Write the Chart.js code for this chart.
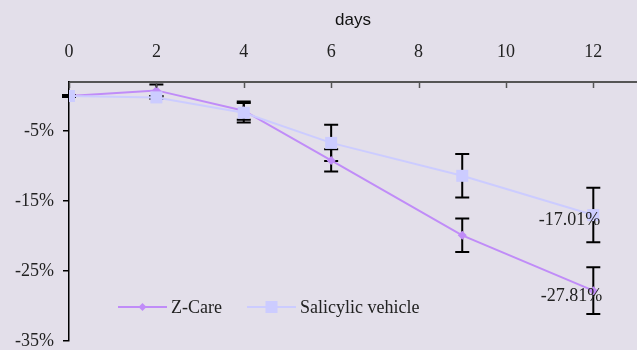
<!DOCTYPE html>
<html>
<head>
<meta charset="utf-8">
<script src="https://cdn.jsdelivr.net/npm/chart.js@4"></script>
<style>
html,body{margin:0;padding:0;background:#E3DFEA;}
#wrap{width:637px;height:350px;position:relative;}
</style>
</head>
<body>
<div id="wrap"><canvas id="c" width="637" height="350"></canvas></div>
<script>
// ---- data ----
const days = [0, 2, 4, 6, 9, 12];
const zcare = [0, 0.8, -2.1, -9.2, -19.9, -27.81];
const zcareErr = [0.15, 0.85, 1.3, 1.6, 2.4, 3.35];
const salicylic = [0, -0.2, -2.4, -6.7, -11.4, -17.01];
const salicylicErr = [0.1, 0.2, 1.4, 2.6, 3.1, 3.9];
const seriesNames = ['Z-Care', 'Salicylic vehicle'];
const xTicks = [0, 2, 4, 6, 8, 10, 12];
const yTicks = [-35, -25, -15, -5];
const xTitle = 'days';

const ZC = '#C08CF8';
const SC = '#CCCCFF';
const SERIF = "'Liberation Serif', 'DejaVu Serif', serif";

const errors = [zcareErr, salicylicErr];

const bgPlugin = {
  id: 'bg',
  beforeDraw(chart) {
    const ctx = chart.ctx;
    ctx.save();
    ctx.fillStyle = '#E3DFEA';
    ctx.fillRect(0, 0, chart.width, chart.height);
    ctx.restore();
  }
};

const xTickMarks = {
  id: 'xTickMarks',
  afterDraw(chart) {
    const xs = chart.scales.x, ctx = chart.ctx;
    const top = chart.chartArea.top;
    ctx.save();
    ctx.strokeStyle = '#555';
    ctx.lineWidth = 1.5;
    xs.ticks.forEach(t => {
      const px = Math.round(xs.getPixelForValue(t.value)) + 0.5;
      ctx.beginPath();
      ctx.moveTo(px, top);
      ctx.lineTo(px, top + 6);
      ctx.stroke();
    });
    ctx.restore();
  }
};

const errorBars = {
  id: 'errorBars',
  beforeDatasetsDraw(chart) {
    const xs = chart.scales.x, ys = chart.scales.y, ctx = chart.ctx;
    ctx.save();
    ctx.strokeStyle = '#000';
    ctx.lineWidth = 2;
    chart.data.datasets.forEach((ds, di) => {
      ds.data.forEach((p, i) => {
        const e = errors[di][i];
        const px = xs.getPixelForValue(p.x);
        const y1 = ys.getPixelForValue(p.y + e);
        const y2 = ys.getPixelForValue(p.y - e);
        ctx.beginPath();
        ctx.moveTo(px, y1); ctx.lineTo(px, y2);
        ctx.moveTo(px - 7, y1); ctx.lineTo(px + 7, y1);
        ctx.moveTo(px - 7, y2); ctx.lineTo(px + 7, y2);
        ctx.stroke();
      });
    });
    ctx.restore();
  }
};

const endLabels = {
  id: 'endLabels',
  afterDatasetsDraw(chart) {
    const xs = chart.scales.x, ys = chart.scales.y, ctx = chart.ctx;
    ctx.save();
    ctx.font = '18px ' + SERIF;
    ctx.fillStyle = '#222';
    ctx.textAlign = 'right';
    ctx.textBaseline = 'middle';
    const offs = [6, 5];
    const dx = [9, 7];
    chart.data.datasets.forEach((ds, di) => {
      const p = ds.data[ds.data.length - 1];
      const px = xs.getPixelForValue(p.x);
      const py = ys.getPixelForValue(p.y);
      ctx.fillText(p.y.toFixed(2) + '%', px + dx[di], py + offs[di]);
    });
    ctx.restore();
  }
};

const customLegend = {
  id: 'customLegend',
  afterDraw(chart) {
    const ctx = chart.ctx;
    const items = [
      {x: 118, color: ZC, style: 'diamond'},
      {x: 247, color: SC, style: 'square'}
    ];
    const y = 307;
    ctx.save();
    items.forEach((it, i) => {
      ctx.strokeStyle = it.color;
      ctx.lineWidth = 2;
      ctx.beginPath();
      ctx.moveTo(it.x, y); ctx.lineTo(it.x + 49, y);
      ctx.stroke();
      ctx.fillStyle = it.color;
      const cx = it.x + 24.5;
      if (it.style === 'diamond') {
        ctx.beginPath();
        ctx.moveTo(cx, y - 4); ctx.lineTo(cx + 4, y); ctx.lineTo(cx, y + 4); ctx.lineTo(cx - 4, y);
        ctx.closePath(); ctx.fill();
      } else {
        ctx.fillRect(cx - 6, y - 6, 12, 12);
      }
      ctx.font = '18px ' + SERIF;
      ctx.fillStyle = '#222';
      ctx.textAlign = 'left';
      ctx.textBaseline = 'middle';
      ctx.fillText(seriesNames[i], it.x + 53, y + 1);
    });
    ctx.restore();
  }
};

new Chart(document.getElementById('c'), {
  type: 'line',
  data: {
    datasets: [
      {
        label: seriesNames[0],
        data: days.map((d, i) => ({x: d, y: zcare[i]})),
        borderColor: ZC,
        backgroundColor: ZC,
        borderWidth: 2,
        pointStyle: 'rectRot',
        pointRadius: 4.5,
        pointBorderWidth: 0,
        order: 2,
        tension: 0
      },
      {
        label: seriesNames[1],
        data: days.map((d, i) => ({x: d, y: salicylic[i]})),
        borderColor: SC,
        backgroundColor: SC,
        borderWidth: 2,
        pointStyle: 'rect',
        pointRadius: 8.5,
        pointBorderWidth: 0,
        order: 1,
        tension: 0
      }
    ]
  },
  options: {
    responsive: false,
    animation: false,
    layout: {autoPadding: false, padding: {left: 0, right: 0, top: 0, bottom: 9}},
    plugins: {legend: {display: false}, tooltip: {enabled: false}},
    scales: {
      x: {
        type: 'linear',
        position: 'top',
        min: 0,
        max: 13,
        afterBuildTicks(s) { s.ticks = xTicks.map(v => ({value: v})); },
        afterFit(s) { s.height = 82; s.paddingLeft = 0; s.paddingRight = 0; },
        grid: {display: false, drawTicks: false},
        border: {color: '#555', width: 2},
        ticks: {
          font: {family: SERIF, size: 18},
          color: '#222',
          padding: 19,
          maxRotation: 0
        },
        title: {
          display: true,
          text: xTitle,
          font: {family: "'Liberation Sans', Arial, sans-serif", size: 17},
          color: '#111',
          padding: {top: 10, bottom: 0}
        }
      },
      y: {
        type: 'linear',
        min: -35,
        max: 2,
        afterBuildTicks(s) { s.ticks = yTicks.map(v => ({value: v})); },
        afterFit(s) { s.width = 69; s.paddingTop = 0; s.paddingBottom = 0; },
        grid: {drawOnChartArea: false, drawTicks: true, tickLength: 6, color: '#000', lineWidth: 1.5},
        border: {color: '#000', width: 1.5},
        ticks: {
          font: {family: SERIF, size: 18},
          color: '#222',
          padding: 9,
          callback: v => v + '%'
        }
      }
    }
  },
  plugins: [bgPlugin, errorBars, endLabels, xTickMarks, customLegend]
});
</script>
</body>
</html>
